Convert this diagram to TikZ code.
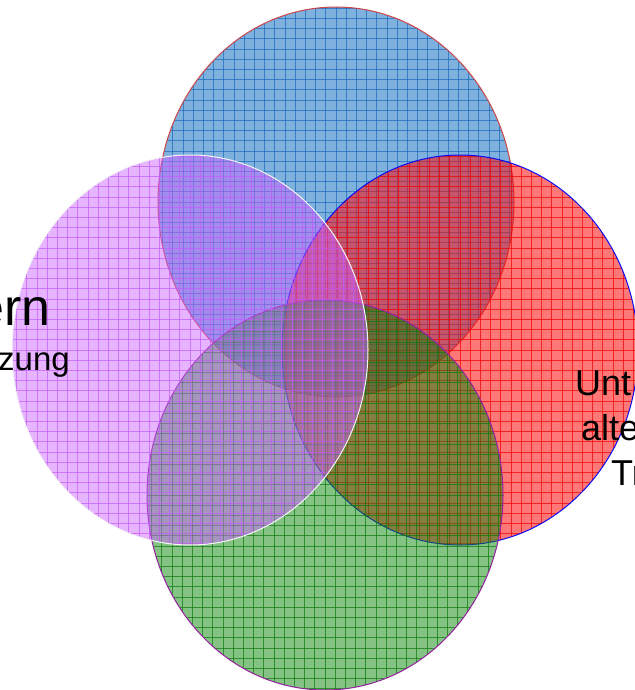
\documentclass[tikz,border=0pt]{standalone}
\usepackage{fontspec}
\setmainfont{Liberation Sans}
\usepackage{tikz}
\usetikzlibrary{positioning}

\definecolor{skyfill}{RGB}{35,120,200}
\definecolor{skygrid}{RGB}{25,105,190}
\definecolor{skyrim}{RGB}{205,70,70}
\definecolor{rosefill}{RGB}{255,10,10}
\definecolor{rosegrid}{RGB}{240,0,0}
\definecolor{roserim}{RGB}{10,10,245}
\definecolor{lilacfill}{RGB}{205,100,255}
\definecolor{lilacgrid}{RGB}{195,90,250}
\definecolor{lilacrim}{RGB}{245,245,245}
\definecolor{leaffill}{RGB}{10,135,10}
\definecolor{leafgrid}{RGB}{10,120,10}
\definecolor{leafrim}{RGB}{150,30,160}

\begin{document}
\begin{tikzpicture}[x=1pt, y=-1pt, font=\sffamily]
  \useasboundingbox (0,0) rectangle (634,690);
  \tikzset{petal/.style={x radius=178, y radius=195},
           mesh/.style={line width=0.8pt, opacity=0.7},
           lbl/.style={inner sep=0pt, text=black}}
  % ---- four overlapping sets, drawn back to front ----
  \foreach \cx/\cy/\fc/\fo/\gc/\rc in {
    336/202/skyfill/0.58/skygrid/skyrim,
    460/350/rosefill/0.55/rosegrid/roserim,
    325/495/leaffill/0.5/leafgrid/leafrim,
    190/350/lilacfill/0.48/lilacgrid/lilacrim} {
    \fill[\fc, fill opacity=\fo] (\cx,\cy) ellipse [petal];
    \begin{scope}
      \clip (\cx,\cy) ellipse [petal];
      % hatch grid, one line every 10.2 units both ways
      \foreach \k in {-19,...,19} {
        \draw[\gc, mesh] (\cx+\k*10.2,\cy-200) -- (\cx+\k*10.2,\cy+200);
        \draw[\gc, mesh] (\cx-190,\cy+\k*10.2) -- (\cx+190,\cy+\k*10.2);
      }
    \end{scope}
    \draw[\rc, line width=1pt] (\cx,\cy) ellipse [petal];
  }
  % ---- set labels, cut by the page edge ----
  \node[lbl, anchor=base east, font=\fontsize{52}{60}\selectfont] (leftA) at (51,325) {ern};
  \node[lbl, anchor=base east, font=\fontsize{33}{40}\selectfont] (leftB) at (70,370) {zung};
  \node[lbl, anchor=base west, font=\fontsize{36}{43}\selectfont] (rightA) at (575,395) {Unt};
  \node[lbl, anchor=base west, font=\fontsize{36}{43}\selectfont] (rightB) at (581,440) {alte};
  \node[lbl, anchor=base west, font=\fontsize{36}{43}\selectfont] (rightC) at (611,485) {Tr};
\end{tikzpicture}
\end{document}
